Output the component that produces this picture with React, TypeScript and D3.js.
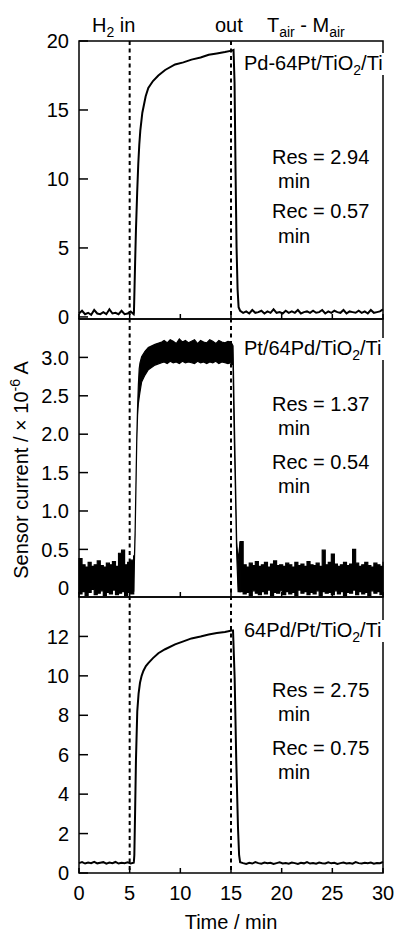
import * as d3 from "d3";

const W = 396;
const H = 933;
const FONT = "'Liberation Sans', Arial, sans-serif";

// shared time axis (min)
const timeTicks = [0, 5, 10, 15, 20, 25, 30];
const gasMarks = [5, 15];

// baseline sampling grid, before H2 in and after H2 out
const preTime = [0, 0.3, 0.6, 0.9, 1.2, 1.5, 1.8, 2.1, 2.4, 2.7, 3.0, 3.3, 3.6, 3.9, 4.2, 4.5, 4.8, 5.1, 5.4];
const postTime = [
  15.9, 16.2, 16.5, 16.8, 17.1, 17.4, 17.7, 18.0, 18.3, 18.6, 18.9, 19.2, 19.5, 19.8, 20.1, 20.4,
  20.7, 21.0, 21.3, 21.6, 21.9, 22.2, 22.5, 22.8, 23.1, 23.4, 23.7, 24.0, 24.3, 24.6, 24.9, 25.2,
  25.5, 25.8, 26.1, 26.4, 26.7, 27.0, 27.3, 27.6, 27.9, 28.2, 28.5, 28.8, 29.1, 29.4, 29.7, 30.0,
];

// Pd-64Pt/TiO2/Ti
const pdPtPre = [0.25, 0.45, 0.2, 0.3, 0.15, 0.5, 0.25, 0.2, 0.35, 0.2, 0.55, 0.25, 0.3, 0.2, 0.45, 0.2, 0.25, 0.4, 0.2];
const pdPtStepTime = [5.42, 5.46, 5.54, 5.62, 5.74, 5.85, 5.95, 6.05, 6.25, 6.58, 6.84, 7.3, 7.83, 8.5, 9.48, 10.3, 11.1, 12.0, 12.8, 13.6, 14.4, 15.07, 15.25, 15.35, 15.45, 15.55, 15.65, 15.75];
const pdPtStep = [0.3, 1.5, 4.0, 6.3, 9.0, 11.1, 12.5, 13.5, 14.8, 16.0, 16.6, 17.1, 17.5, 17.9, 18.3, 18.45, 18.65, 18.8, 19.0, 19.1, 19.2, 19.3, 19.35, 17.0, 10.5, 5.0, 2.0, 0.7];
const pdPtPost = [
  0.45, 0.3, 0.4, 0.25, 0.5, 0.3, 0.35, 0.45, 0.25, 0.4, 0.3, 0.55, 0.3, 0.35, 0.25, 0.45,
  0.3, 0.4, 0.3, 0.5, 0.25, 0.35, 0.4, 0.3, 0.45, 0.3, 0.35, 0.5, 0.25, 0.4, 0.3, 0.45,
  0.35, 0.3, 0.5, 0.25, 0.4, 0.35, 0.3, 0.45, 0.3, 0.4, 0.25, 0.5, 0.3, 0.35, 0.4, 0.55,
];

// Pt/64Pd/TiO2/Ti (noisy: upper and lower envelope)
const ptPdPreHi = [0.38, 0.3, 0.27, 0.33, 0.28, 0.3, 0.35, 0.29, 0.27, 0.32, 0.3, 0.34, 0.28, 0.45, 0.49, 0.3, 0.33, 0.36, 0.42];
const ptPdPreLo = [-0.08, -0.05, -0.1, -0.06, -0.02, -0.09, -0.07, -0.04, -0.1, -0.06, -0.08, -0.03, -0.09, -0.07, -0.05, -0.1, -0.06, -0.08, -0.05];
const ptPdStepTime = [
  5.4, 5.46, 5.54, 5.62, 5.7, 5.78, 5.86, 5.94, 6.02, 6.18, 6.51, 6.84, 7.5, 8.16, 8.4, 8.7, 9.0, 9.3,
  9.6, 9.9, 10.2, 10.5, 10.8, 11.1, 11.4, 11.7, 12.0, 12.3, 12.6, 12.9, 13.2, 13.5, 13.8, 14.1,
  14.4, 14.7, 15.0, 15.2, 15.3, 15.43, 15.56, 15.7, 15.9,
];
const ptPdStepHi = [
  0.42, 0.35, 0.75, 1.35, 1.95, 2.35, 2.65, 2.85, 2.93, 3.01, 3.08, 3.13, 3.17, 3.2, 3.22, 3.19, 3.23,
  3.21, 3.18, 3.24, 3.2, 3.22, 3.19, 3.21, 3.23, 3.18, 3.22, 3.2, 3.19, 3.23, 3.21, 3.18, 3.22,
  3.2, 3.19, 3.21, 3.2, 3.15, 2.4, 1.5, 0.6, 0.35, 0.6,
];
const ptPdStepLo = [
  -0.05, 0.3, 0.7, 1.3, 1.9, 2.25, 2.4, 2.48, 2.55, 2.68, 2.77, 2.84, 2.9, 2.93, 2.94, 2.92, 2.95,
  2.93, 2.94, 2.92, 2.95, 2.93, 2.94, 2.93, 2.92, 2.95, 2.93, 2.94, 2.92, 2.94, 2.93, 2.95, 2.92,
  2.94, 2.93, 2.92, 2.93, 2.9, 2.1, 1.3, 0.45, -0.05, -0.05,
];
const ptPdPostHi = [
  0.6, 0.3, 0.27, 0.32, 0.29, 0.34, 0.28, 0.3, 0.33, 0.27, 0.31, 0.35, 0.29, 0.3, 0.28, 0.32,
  0.3, 0.27, 0.33, 0.29, 0.31, 0.28, 0.34, 0.3, 0.29, 0.32, 0.28, 0.49, 0.3, 0.33, 0.44, 0.31,
  0.28, 0.3, 0.33, 0.29, 0.31, 0.5, 0.32, 0.28, 0.3, 0.33, 0.29, 0.27, 0.32, 0.3, 0.28, 0.34,
];
const ptPdPostLo = [
  -0.05, -0.08, -0.06, -0.1, -0.04, -0.07, -0.09, -0.05, -0.08, -0.03, -0.1, -0.06, -0.07, -0.04, -0.09, -0.05,
  -0.08, -0.06, -0.1, -0.03, -0.07, -0.05, -0.09, -0.06, -0.08, -0.04, -0.1, -0.05, -0.07, -0.06, -0.09, -0.04,
  -0.08, -0.05, -0.1, -0.06, -0.07, -0.03, -0.09, -0.05, -0.08, -0.06, -0.1, -0.04, -0.07, -0.05, -0.09, -0.06,
];

// 64Pd/Pt/TiO2/Ti
const pdPre = [0.5, 0.55, 0.48, 0.53, 0.5, 0.57, 0.49, 0.52, 0.55, 0.47, 0.53, 0.5, 0.56, 0.48, 0.52, 0.5, 0.54, 0.48, 0.52];
const pdStepTime = [5.42, 5.46, 5.54, 5.62, 5.75, 5.88, 6.02, 6.18, 6.35, 6.6, 6.84, 7.3, 7.83, 8.5, 9.48, 10.3, 11.1, 12.0, 12.8, 13.6, 14.4, 15.07, 15.2, 15.36, 15.52, 15.69, 15.8];
const pdStep = [0.6, 0.9, 3.2, 5.7, 8.2, 9.1, 9.65, 10.0, 10.25, 10.5, 10.65, 10.9, 11.15, 11.35, 11.6, 11.75, 11.9, 12.0, 12.1, 12.17, 12.23, 12.3, 12.3, 9.9, 5.7, 2.3, 0.9];
const pdPost = [
  0.55, 0.5, 0.46, 0.52, 0.48, 0.55, 0.5, 0.47, 0.53, 0.49, 0.52, 0.46, 0.5, 0.54, 0.48, 0.51,
  0.47, 0.53, 0.5, 0.46, 0.52, 0.49, 0.55, 0.48, 0.51, 0.47, 0.53, 0.5, 0.48, 0.54, 0.49, 0.52,
  0.46, 0.5, 0.53, 0.48, 0.51, 0.47, 0.55, 0.5, 0.48, 0.52, 0.49, 0.53, 0.47, 0.51, 0.5, 0.56,
];

const ticks1 = [0, 5, 10, 15, 20];
const ticks2 = [0, 0.5, 1.0, 1.5, 2.0, 2.5, 3.0];
const ticks3 = [0, 2, 4, 6, 8, 10, 12];

const x = d3.scaleLinear().domain([0, 30]).range([79, 383]);

type Pt = [number, number];
const zipXY = (t: number[], v: number[]): Pt[] => t.map((d, i) => [d, v[i]]);

function Sub({ children }: { children: string }) {
  return (
    <tspan fontSize={14} dy={5}>
      {children}
    </tspan>
  );
}

function Panel({
  top,
  bottom,
  domain,
  ticks,
  fmt,
  label,
  labelY,
  res,
  rec,
  resY,
  children,
}: {
  top: number;
  bottom: number;
  domain: [number, number];
  ticks: number[];
  fmt: (v: number) => string;
  label: [string, string];
  labelY: number;
  res: string;
  rec: string;
  resY: number[];
  children: (y: d3.ScaleLinear<number, number>) => any;
}) {
  const y = d3.scaleLinear().domain(domain).range([bottom, top]);
  return (
    <g>
      {children(y)}
      <rect x={79} y={top} width={304} height={bottom - top} fill="none" stroke="#000" strokeWidth={1.5} />
      {ticks.map((t) => (
        <g key={t}>
          <line x1={79} x2={88} y1={y(t)} y2={y(t)} stroke="#000" strokeWidth={1.5} />
          <text x={69} y={y(t)} dy="0.36em" textAnchor="end">
            {fmt(t)}
          </text>
        </g>
      ))}
      {timeTicks.map((t) => (
        <line key={t} x1={x(t)} x2={x(t)} y1={bottom} y2={bottom - 5} stroke="#000" strokeWidth={1.5} />
      ))}
      <rect x={242} y={labelY - 17} width={W - 242} height={22} fill="#fff" />
      <text x={244} y={labelY}>
        {label[0]}
        <Sub>2</Sub>
        <tspan dy={-5}>{label[1]}</tspan>
      </text>
      <text x={272} y={resY[0]}>{res}</text>
      <text x={278} y={resY[1]}>min</text>
      <text x={272} y={resY[2]}>{rec}</text>
      <text x={278} y={resY[3]}>min</text>
    </g>
  );
}

export default function App() {
  const line = (y: d3.ScaleLinear<number, number>) =>
    d3
      .line<Pt>()
      .x((d) => x(d[0]))
      .y((d) => y(d[1]));

  const trace1 = [...zipXY(preTime, pdPtPre), ...zipXY(pdPtStepTime, pdPtStep), ...zipXY(postTime, pdPtPost)];
  const trace3 = [...zipXY(preTime, pdPre), ...zipXY(pdStepTime, pdStep), ...zipXY(postTime, pdPost)];

  // noisy band: blocky steps on the baselines, straight segments through the response
  const band = (
    y: d3.ScaleLinear<number, number>,
    t: number[],
    hi: number[],
    lo: number[],
    curve: d3.CurveFactory,
  ) =>
    d3
      .area<number>()
      .curve(curve)
      .x((_, i) => x(t[i]))
      .y0((_, i) => y(Math.max(lo[i], -0.12)))
      .y1((_, i) => y(hi[i]))(t) ?? "";

  return (
    <svg
      width={W}
      height={H}
      style={{ position: "absolute", left: 0, top: 0, background: "#fff" }}
      fontFamily={FONT}
      fontSize={20}
      fill="#000"
    >
      {/* header */}
      <text x={92} y={32}>
        H<Sub>2</Sub>
        <tspan dy={-5}> in</tspan>
      </text>
      <text x={215} y={32}>out</text>
      <text x={267} y={32}>
        T<Sub>air</Sub>
        <tspan dy={-5}> - M</tspan>
        <Sub>air</Sub>
      </text>

      <Panel
        top={41}
        bottom={319}
        domain={[-0.15, 20]}
        ticks={ticks1}
        fmt={(v) => String(v)}
        label={["Pd-64Pt/TiO", "/Ti"]}
        labelY={70}
        res="Res = 2.94"
        rec="Rec = 0.57"
        resY={[164, 188, 218, 243]}
      >
        {(y) => <path d={line(y)(trace1) ?? ""} fill="none" stroke="#000" strokeWidth={2} />}
      </Panel>

      <Panel
        top={319}
        bottom={597}
        domain={[-0.12, 3.5]}
        ticks={ticks2}
        fmt={(v) => (v === 0 ? "0" : v.toFixed(1))}
        label={["Pt/64Pd/TiO", "/Ti"]}
        labelY={355}
        res="Res = 1.37"
        rec="Rec = 0.54"
        resY={[411, 435, 469, 493]}
      >
        {(y) => (
          <g fill="#000" stroke="#000" strokeWidth={1.2}>
            <path d={band(y, preTime, ptPdPreHi, ptPdPreLo, d3.curveStepAfter)} />
            <path d={band(y, ptPdStepTime, ptPdStepHi, ptPdStepLo, d3.curveLinear)} />
            <path d={band(y, postTime, ptPdPostHi, ptPdPostLo, d3.curveStepAfter)} />
          </g>
        )}
      </Panel>

      <Panel
        top={597}
        bottom={873}
        domain={[0, 14]}
        ticks={ticks3}
        fmt={(v) => String(v)}
        label={["64Pd/Pt/TiO", "/Ti"]}
        labelY={637}
        res="Res = 2.75"
        rec="Rec = 0.75"
        resY={[697, 721, 755, 779]}
      >
        {(y) => <path d={line(y)(trace3) ?? ""} fill="none" stroke="#000" strokeWidth={2} />}
      </Panel>

      {/* H2 in / out markers */}
      {gasMarks.map((t) => (
        <line key={t} x1={x(t)} x2={x(t)} y1={41} y2={873} stroke="#000" strokeWidth={2} strokeDasharray="4,3.5" />
      ))}

      {/* x axis */}
      {timeTicks.map((t) => (
        <text key={t} x={x(t)} y={900} textAnchor="middle">
          {t}
        </text>
      ))}
      <text x={231} y={929} textAnchor="middle">
        Time / min
      </text>

      {/* y axis label */}
      <text transform="translate(28,470) rotate(-90)" textAnchor="middle">
        Sensor current / × 10
        <tspan fontSize={14} dy={-8}>
          -6
        </tspan>
        <tspan dy={8}> A</tspan>
      </text>
    </svg>
  );
}
